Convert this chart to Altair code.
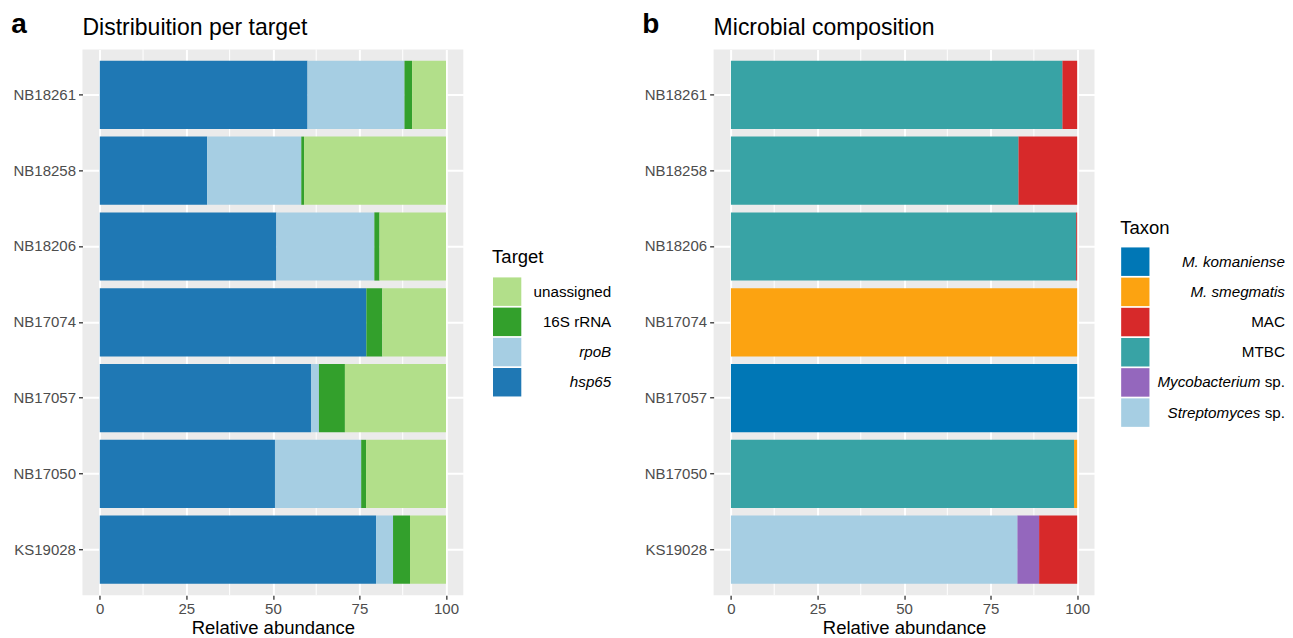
import altair as alt
import pandas as pd

FONT = "Liberation Sans"

# ---------------- data ----------------
samples = ["NB18261", "NB18258", "NB18206", "NB17074", "NB17057", "NB17050", "KS19028"]

# panel a: distribution per target (percent)
target_stack = ["hsp65", "rpoB", "16S rRNA", "unassigned"]          # left -> right
target_legend = ["unassigned", "16S rRNA", "rpoB", "hsp65"]         # legend order
target_colors = ["#B2DF8A", "#33A02C", "#A6CEE3", "#1F78B4"]
hsp65 = [60.0, 31.0, 51.0, 77.0, 61.0, 50.6, 79.8]
rpoB = [28.0, 27.2, 28.3, 0.0, 2.3, 24.9, 4.9]
rrna16s = [2.2, 0.8, 1.5, 4.6, 7.5, 1.4, 4.9]
unassigned = [9.8, 41.0, 19.2, 18.4, 29.2, 23.1, 10.4]

# panel b: microbial composition (percent)
taxon_legend = ["M. komaniense", "M. smegmatis", "MAC", "MTBC",
                "Mycobacterium sp.", "Streptomyces sp."]
taxon_stack = list(reversed(taxon_legend))
taxon_colors = ["#0077B6", "#FCA311", "#D7292A", "#38A3A5", "#9467BD", "#A6CEE3"]
komaniense = [0, 0, 0, 0, 100.0, 0, 0]
smegmatis = [0, 0, 0, 100.0, 0, 0.9, 0]
mac = [4.3, 17.0, 0.3, 0, 0, 0, 11.0]
mtbc = [95.7, 83.0, 99.7, 0, 0, 99.1, 0]
mycobacterium_sp = [0, 0, 0, 0, 0, 0, 6.3]
streptomyces_sp = [0, 0, 0, 0, 0, 0, 82.7]

minor_breaks = [12.5, 37.5, 62.5, 87.5]
major_breaks = [0, 25, 50, 75, 100]

# legend label pieces (normal / italic parts)
target_norm = ["unassigned", "16S rRNA", "", ""]
target_ital = ["", "", "rpoB", "hsp65"]
target_kind = ["norm", "norm", "ital", "ital"]
taxon_norm = ["", "", "MAC", "MTBC", "sp.", "sp."]
taxon_ital = ["M. komaniense", "M. smegmatis", "", "", "Mycobacterium", "Streptomyces"]
taxon_kind = ["ital", "ital", "norm", "norm", "mixed", "mixed"]


def long_df(series, stack_order):
    rows = []
    for cat, vals in series.items():
        for s, v in zip(samples, vals):
            if v > 0:
                rows.append({"sample": s, "cat": cat, "value": v,
                             "order": stack_order.index(cat)})
    return pd.DataFrame(rows)


df_a = long_df({"hsp65": hsp65, "rpoB": rpoB, "16S rRNA": rrna16s,
                "unassigned": unassigned}, target_stack)
df_b = long_df({"M. komaniense": komaniense, "M. smegmatis": smegmatis,
                "MAC": mac, "MTBC": mtbc, "Mycobacterium sp.": mycobacterium_sp,
                "Streptomyces sp.": streptomyces_sp}, taxon_stack)

leg_a = pd.DataFrame({"cat": target_legend, "norm": target_norm,
                      "ital": target_ital, "kind": target_kind})
leg_b = pd.DataFrame({"cat": taxon_legend, "norm": taxon_norm,
                      "ital": taxon_ital, "kind": taxon_kind})

head_a = pd.DataFrame([{"letter": "a", "title": "Distribuition per target",
                        "legend_title": "Target"}])
head_b = pd.DataFrame([{"letter": "b", "title": "Microbial composition",
                        "legend_title": "Taxon"}])

minor_df = pd.DataFrame({"m": minor_breaks})

W, H = 381, 546
TICK_FS = 15
LEG_FS = 15.2


def panel(df, cats, colors, leg_df, head_df, leg_range, leg_title_y, leg_x, label_end):
    color = alt.Color("cat:N", scale=alt.Scale(domain=cats, range=colors), legend=None)
    xscale = alt.Scale(domain=[-5, 105], nice=False, zero=False)
    xaxis = alt.Axis(values=major_breaks, grid=True, gridColor="white", gridWidth=2,
                     domain=False, tickColor="#333333", tickSize=4, tickWidth=1.3,
                     labelColor="#4D4D4D", labelFontSize=TICK_FS, labelFont=FONT,
                     labelPadding=2, titleFont=FONT, titleFontSize=18.5,
                     titleFontWeight="normal", titleColor="black", titlePadding=2.6)
    yaxis = alt.Axis(grid=True, gridColor="white", gridWidth=2, domain=False,
                     tickColor="#333333", tickSize=4, tickWidth=1.3,
                     labelColor="#4D4D4D", labelFontSize=TICK_FS, labelFont=FONT,
                     labelPadding=3, bandPosition=0.5)

    minor = alt.Chart(minor_df).mark_rule(color="white", strokeWidth=1).encode(
        x=alt.X("m:Q", scale=xscale, axis=xaxis, title="Relative abundance"))

    bars = alt.Chart(df).mark_bar().encode(
        x=alt.X("value:Q", stack="zero", scale=xscale, axis=xaxis,
                title="Relative abundance"),
        y=alt.Y("sample:N", sort=samples,
                scale=alt.Scale(domain=samples, paddingInner=0.1, paddingOuter=0.15),
                axis=yaxis, title=None),
        color=color,
        order=alt.Order("order:Q"),
    )

    ly = alt.Y("cat:N", sort=cats,
               scale=alt.Scale(domain=cats, range=leg_range,
                               paddingInner=0.056, paddingOuter=0.028),
               axis=None)
    leg_rect = alt.Chart(leg_df).mark_rect().encode(
        x=alt.value(leg_x), x2=alt.value(leg_x + 28.3), y=ly, color=color)
    txt = dict(font=FONT, fontSize=LEG_FS, color="black", align="right", baseline="middle")
    leg_norm = alt.Chart(leg_df).transform_filter("datum.norm != ''").mark_text(
        **txt).encode(x=alt.value(label_end), y=ly, text="norm:N")
    leg_ital = alt.Chart(leg_df).transform_filter("datum.kind == 'ital'").mark_text(
        fontStyle="italic", **txt).encode(x=alt.value(label_end), y=ly, text="ital:N")
    leg_mix = alt.Chart(leg_df).transform_filter("datum.kind == 'mixed'").mark_text(
        fontStyle="italic", dx=-24.5, **txt).encode(x=alt.value(label_end), y=ly, text="ital:N")
    legend = alt.layer(leg_rect, leg_norm, leg_ital, leg_mix)

    hdr = alt.Chart(head_df)
    letter = hdr.mark_text(font=FONT, fontSize=28, fontWeight="bold", align="left",
                           baseline="alphabetic", color="black").encode(
        x=alt.value(-71.3), y=alt.value(-16.2), text="letter:N")
    title = hdr.mark_text(font=FONT, fontSize=23, align="left", baseline="alphabetic",
                          color="black").encode(
        x=alt.value(0), y=alt.value(-14.3), text="title:N")
    leg_title = hdr.mark_text(font=FONT, fontSize=18.5, align="left",
                              baseline="alphabetic", color="black").encode(
        x=alt.value(leg_x - 0.9), y=alt.value(leg_title_y), text="legend_title:N")

    return alt.layer(minor, bars, legend, letter, title, leg_title).resolve_scale(
        y="independent").properties(width=W, height=H)


pa = panel(df_a, target_legend, target_colors, leg_a, head_a,
           [227.25, 348.05], 213.9, 410.7, 529)
pb = panel(df_b, taxon_legend, taxon_colors, leg_b, head_b,
           [197.25, 378.45], 184.7, 407.7, 571.5)

chart = alt.hconcat(pa, pb, spacing=30.4).resolve_scale(
    color="independent", x="independent", y="independent"
).configure_view(fill="#EBEBEB", strokeWidth=0).properties(
    padding={"left": 2.5, "top": 2.3, "right": 0, "bottom": 0}, background="white")

chart.save("out.html", embed_options={"renderer": "svg", "actions": False})
